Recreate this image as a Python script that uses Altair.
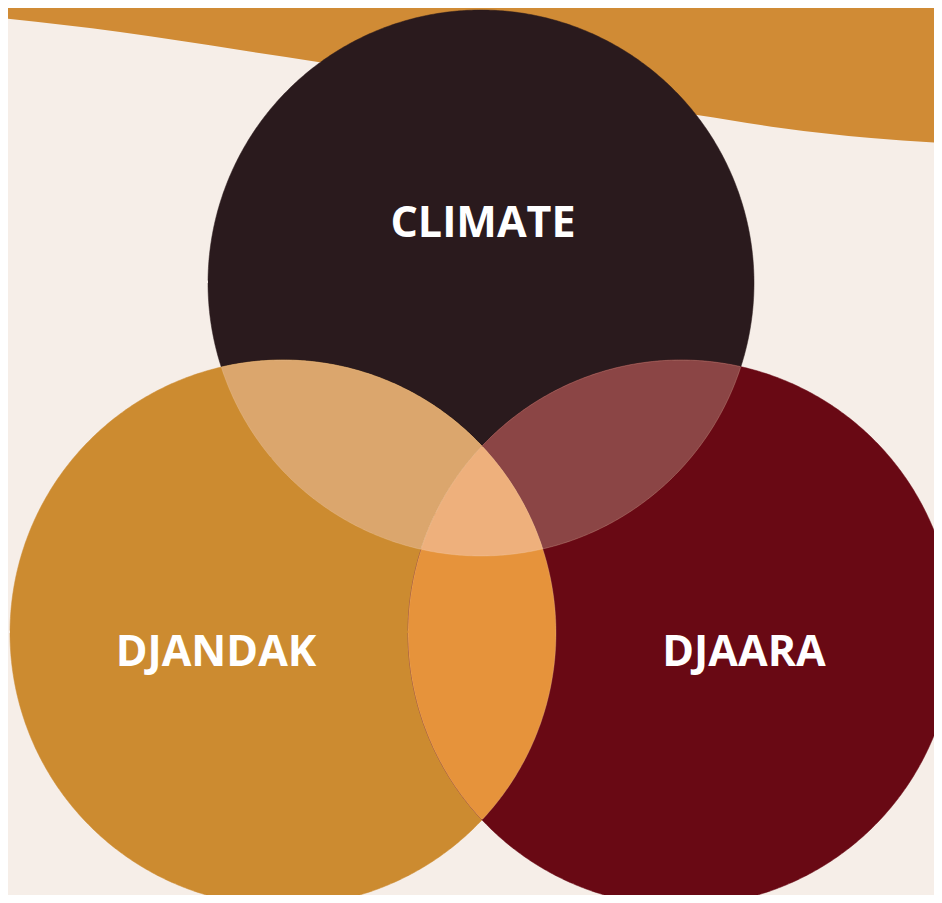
import altair as alt
import numpy as np
import pandas as pd

# --- data (reference-pixel coordinates) ---
circle_names = ["CLIMATE", "DJANDAK", "DJAARA"]
circle_cx = [481, 283, 681]
circle_cy = [283, 633, 633]
circle_r = [273, 273, 273]
circle_colors = ["#2a1a1d", "#cc8b30", "#690914"]
label_x = [483, 216, 744]
label_y = [224, 653, 653]

pair_sets = [(0, 1), (0, 2), (1, 2)]
pair_colors = ["#dba66d", "#8b4545", "#e6933b"]
triple_color = "#eeb07c"

wave_x = [0, 120, 240, 318, 480, 697, 781, 871, 942]
wave_y = [18, 32, 50, 62, 90, 115, 128, 138, 143]

W, H = 926, 887
BG = "#f6eee8"


def region_polygon(idx):
    """Convex intersection of the circles in idx, as ordered boundary points."""
    pts = []
    t = np.linspace(0, 2 * np.pi, 721)
    for i in idx:
        xs = circle_cx[i] + circle_r[i] * np.cos(t)
        ys = circle_cy[i] + circle_r[i] * np.sin(t)
        keep = np.ones_like(xs, dtype=bool)
        for j in idx:
            if j == i:
                continue
            d = np.hypot(xs - circle_cx[j], ys - circle_cy[j])
            keep &= d <= circle_r[j] + 1e-6
        pts.extend(zip(xs[keep], ys[keep]))
    pts = np.array(pts)
    c = pts.mean(axis=0)
    ang = np.arctan2(pts[:, 1] - c[1], pts[:, 0] - c[0])
    o = np.argsort(ang)
    pts = pts[o]
    return pd.DataFrame({"x": pts[:, 0], "y": pts[:, 1], "i": np.arange(len(pts))})


xs = alt.Scale(domain=[8, 8 + W], nice=False, zero=False)
ys = alt.Scale(domain=[8, 8 + H], nice=False, zero=False, reverse=True)
X = lambda f: alt.X(f, type="quantitative", scale=xs, axis=None)
Y = lambda f: alt.Y(f, type="quantitative", scale=ys, axis=None)

layers = []

wave_df = pd.DataFrame({"x": wave_x, "y": wave_y, "top": [0] * len(wave_x)})
layers.append(
    alt.Chart(wave_df).mark_area(color="#d08b35", clip=True, interpolate="monotone").encode(
        x=X("x"), y=Y("y"), y2=alt.Y2("top")
    )
)

def poly_layer(df, color, stroke, sw, so):
    return alt.Chart(df).mark_line(
        fill=color, stroke=stroke, strokeWidth=sw, strokeOpacity=so, clip=True
    ).encode(x=X("x"), y=Y("y"), order=alt.Order("i:Q"))

for k in range(3):
    layers.append(poly_layer(region_polygon([k]), circle_colors[k], circle_colors[k], 0.5, 1))
for (a, b), col in zip(pair_sets, pair_colors):
    layers.append(poly_layer(region_polygon([a, b]), col, "#f6d8bc", 0.8, 0.3))
layers.append(poly_layer(region_polygon([0, 1, 2]), triple_color, "#f6d8bc", 0.8, 0.3))

lab_df = pd.DataFrame({"name": circle_names, "x": label_x, "y": label_y})
layers.append(
    alt.Chart(lab_df).mark_text(
        font="Open Sans", fontWeight="bold", fontSize=43, color="white",
        align="center", baseline="middle"
    ).encode(x=X("x"), y=Y("y"), text="name:N")
)

chart = alt.layer(*layers).properties(width=W, height=H, padding=0).configure(
    background=BG
).configure_view(strokeWidth=0, fill=BG)

chart.save("out.html", embed_options={"renderer": "svg", "actions": False})
